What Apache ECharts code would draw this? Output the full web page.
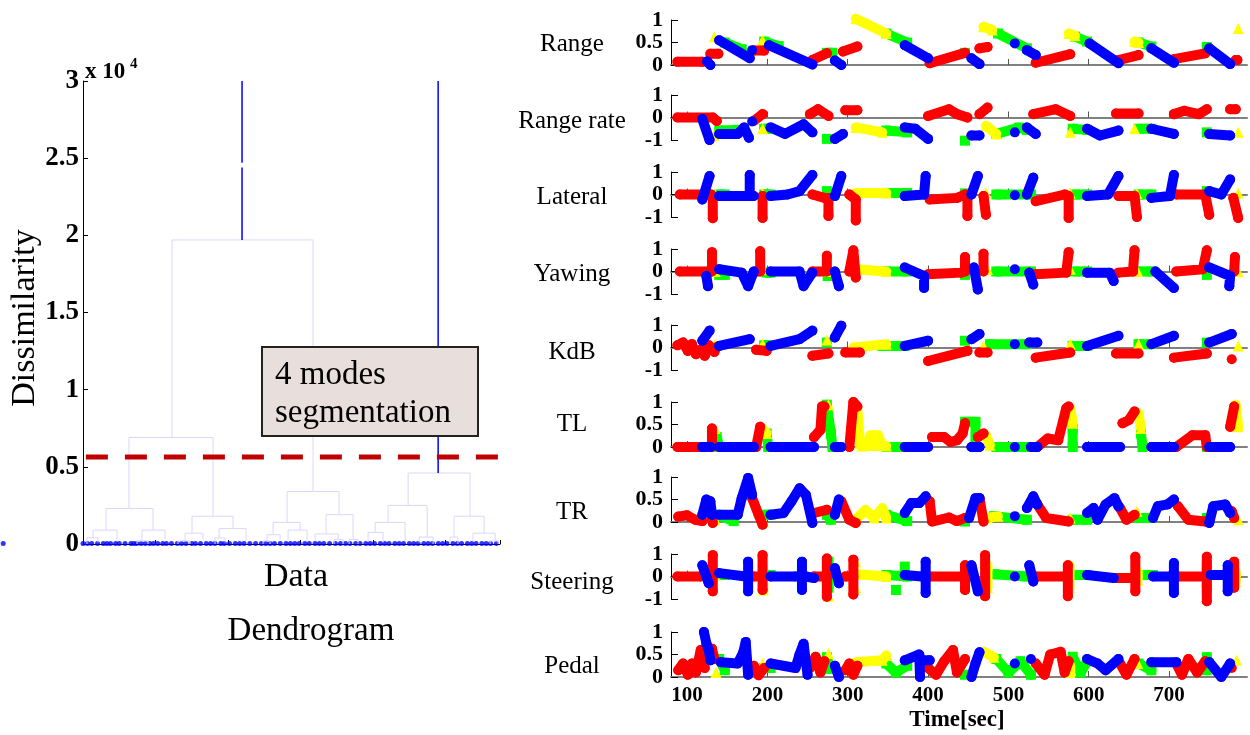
<!DOCTYPE html>
<html lang="en">
<head>
<meta charset="UTF-8">
<title>Dendrogram and driving modes</title>
<script src="https://cdn.jsdelivr.net/npm/echarts@6/dist/echarts.min.js"></script>
<style>html,body{margin:0;padding:0;background:#fff;}</style>
</head>
<body>
<div id="main" style="width:1250px;height:735px;"></div>
<script>
// ---------- dendrogram data (x in leaf units, height in 10^4) ----------
var dendroTicks = [0, 0.5, 1, 1.5, 2, 2.5, 3];
// [xLeft, xRight, height, leftChildHeight, rightChildHeight]
var dendroLinks = [
  [1.228, 3.172, 1.97, 0.69, 0.34],
  [0.634, 1.793, 0.69, 0.23, 0.18],
  [2.814, 3.531, 0.34, 0.14, 0.19],
  [4.483, 5.338, 0.46, 0.25, 0.18],
  [0.317, 0.966, 0.23, 0.09, 0.09],
  [1.503, 2.069, 0.18, 0.07, 0.10],
  [2.621, 2.993, 0.14, 0.06, 0.09],
  [3.352, 3.724, 0.19, 0.065, 0.03],
  [4.207, 4.745, 0.25, 0.14, 0.045],
  [5.117, 5.531, 0.18, 0.045, 0.07],
  [0.138, 0.469, 0.09, 0.04, 0.02],
  [0.814, 1.131, 0.09, 0.02, 0.03],
  [1.407, 1.655, 0.07, 0.02, 0.03],
  [1.876, 2.248, 0.10, 0.04, 0.02],
  [2.538, 2.717, 0.06, 0.02, 0.03],
  [2.828, 3.090, 0.09, 0.03, 0.02],
  [3.200, 3.517, 0.065, 0.02, 0.03],
  [4.028, 4.441, 0.14, 0.075, 0.02],
  [3.931, 4.138, 0.075, 0.02, 0.01],
  [5.379, 5.683, 0.07, 0.02, 0.02],
  [0.055, 0.207, 0.04, 0, 0.01],
  [1.821, 1.959, 0.04, 0, 0.01],
  [4.634, 4.828, 0.045, 0.01, 0],
  [5.062, 5.170, 0.045, 0, 0],
  [3.669, 3.793, 0.03, 0, 0],
  [2.483, 2.579, 0.02, 0, 0],
  [0.745, 0.897, 0.02, 0, 0],
  [1.310, 1.476, 0.02, 0, 0],
  [3.462, 3.586, 0.03, 0, 0],
  [5.614, 5.724, 0.02, 0, 0]
];
// blue top branches [x, from, to]
var dendroStems = [[2.193, 1.97, 2.44], [2.193, 2.47, 3.0], [4.897, 0.46, 3.0]];
var dendroLeaves = [-1.1, 0.0, 0.06, 0.12, 0.2, 0.28, 0.33, 0.38, 0.45, 0.5, 0.58, 0.66, 0.7, 0.74, 0.8, 0.86,
  0.92, 0.97, 1.03, 1.1, 1.15, 1.22, 1.3, 1.36, 1.42, 1.5, 1.55, 1.62, 1.7, 1.76, 1.82, 1.9, 1.95,
  2.02, 2.1, 2.16, 2.22, 2.3, 2.38, 2.46, 2.52, 2.58, 2.64, 2.72, 2.8, 2.86, 2.92, 2.98, 3.06, 3.12,
  3.2, 3.26, 3.32, 3.4, 3.48, 3.55, 3.62, 3.68, 3.76, 3.82, 3.9, 3.96, 4.02, 4.1, 4.16, 4.22, 4.3,
  4.36, 4.42, 4.5, 4.56, 4.62, 4.7, 4.76, 4.82, 4.9, 4.96, 5.02, 5.1, 5.16, 5.22, 5.3, 5.36, 5.42,
  5.5, 5.56, 5.62, 5.7];
var cutLevel = 0.564;
var cutFrom = 0.04, cutTo = 5.93;

// ---------- time series panels ----------
var panelNames = ['Range', 'Range rate', 'Lateral', 'Yawing', 'KdB', 'TL', 'TR', 'Steering', 'Pedal'];
var timeTicks = [100, 200, 300, 400, 500, 600, 700];
var unitTicks = [0, 0.5, 1];
var signTicks = [-1, 0, 1];

var rangeRed = [[88,0.07],[119,0.07],null,[129,0.25],[139,0.25],null,[183,0.32],[196,0.32],null,
  [256,0.11],[274,0.26],null,[294,0.3],[312,0.41],null,[402,0.04],[446,0.27],null,[464,0.37],[474,0.4],null,
  [534,0.05],[577,0.24],null,[637,0.11],[662,0.22],null,[706,0.13],[745,0.26],null,[783,0.11],[785,0.11]];
var rangeBlue = [[125,0.08],[129,0.0],null,[140,0.55],[178,0.15],null,[181,0.33],null,[202,0.44],[256,0.01],null,
  [284,0.1],[292,0.0],null,[371,0.44],[400,0.15],null,[454,0.15],[464,0.02],null,[508,0.48],null,
  [523,0.33],[534,0.22],null,[601,0.48],[637,0.04],null,[678,0.37],[706,0.05],null,[750,0.37],[776,0.02]];
var rangeGreen = [[147,0.5],[168,0.35],null,[196,0.52],[214,0.42],null,[274,0.27],[281,0.27],null,
  [348,0.7],[374,0.5],null,[446,0.27],null,[487,0.7],[523,0.37],null,[583,0.63],[598,0.52],null,
  [662,0.5],[678,0.41],null,[747,0.4]];
var rangeYellow = [[134,0.63],null,[194,0.55],null,[310,1.03],[348,0.7],null,[469,0.85],[480,0.78],null,
  [575,0.7],[583,0.65],null,[657,0.52],[662,0.5],null,[786,0.81]];

var rateRed = [[88,0],[132,0],[137,-0.15],null,[183,-0.15],[194,0.15],null,[253,0.15],[263,0.37],[276,0.07],null,
  [297,0.32],[312,0.32],null,[400,0.07],[426,0.37],[436,0.15],[449,0],null,[464,0.15],[474,0.44],null,
  [531,0.15],[559,0.37],[577,0.07],null,[634,0.18],[662,0.18],null,[706,0.15],[719,0.3],[737,0.15],[747,0.37],null,
  [776,0.37],[783,0.37]];
var rateBlue = [[119,-0.07],[128,-1],null,[140,-0.73],[163,-0.73],[171,-0.44],[177,-0.9],null,[181,-0.18],null,
  [204,-0.44],[222,-0.73],[245,-0.3],[256,-0.66],null,[284,-0.95],[294,-0.73],null,[371,-0.44],[384,-0.5],[400,-0.95],null,
  [454,-0.8],[464,-0.8],null,[508,-0.66],null,[523,-0.44],[534,-0.73],null,[598,-0.5],[614,-0.8],[637,-0.58],null,
  [678,-0.5],[706,-0.73],null,[750,-0.73],[776,-0.8]];
var rateGreen = [[140,-0.58],[163,-0.55],null,[196,-0.5],[204,-0.5],null,[274,-0.95],null,[348,-0.58],[374,-0.66],null,
  [446,-1.03],null,[485,-0.73],[513,-0.45],[523,-0.55],null,[580,-0.5],[598,-0.55],null,[662,-0.5],[678,-0.5],null,[747,-0.66]];
var rateYellow = [[134,-0.8],null,[194,-0.5],null,[310,-0.44],[343,-0.66],null,[472,-0.37],[485,-0.73],null,
  [577,-0.66],null,[657,-0.5],null,[786,-0.66]];

var latRed = [[91,0],[130,0],[132,-0.1],[132,-1.05],null,[194,-0.07],[194,-1.04],null,[256,0],[271,-0.15],[276,-0.15],[276,-0.95],null,
  [302,0],[310,-0.22],[310,-1.15],null,[402,-0.22],[436,-0.15],[446,0],null,[449,-0.15],[449,-0.95],null,
  [469,-0.07],[472,-0.9],null,[534,-0.3],[570,0],[575,-0.07],[575,-1.04],null,[637,-0.07],[657,-0.07],[660,-1.0],null,
  [709,0],[745,0],[750,-0.9],null,[780,-0.15],[786,-1.04]];
var latBlue = [[119,-0.22],[128,0.82],null,[140,-0.07],[183,-0.07],null,[178,-0.07],[178,0.87],null,
  [204,-0.07],[225,0],[240,0.15],[256,0.87],null,[284,-0.07],[292,0.82],null,[371,-0.07],[395,0],[397,0.82],null,
  [454,0],[462,0.82],null,[508,-0.03],null,[523,0],[531,0.75],null,[598,-0.07],[624,0],[637,0.82],null,
  [678,-0.15],[701,-0.07],[706,0.87],null,[750,0.15],[765,0],[776,0.67]];
var latGreen = [[140,0],[147,0],null,[196,0],[204,0],null,[274,0.15],null,[348,0.07],[374,0.07],null,[446,0.05],null,
  [485,0],[528,0],null,[583,0],[598,0],null,[662,0],[678,0],null,[747,0.15]];
var latYellow = [[135,0],null,[194,0.05],null,[310,0.07],[348,0.07],null,[472,0.07],null,[577,0.07],null,[660,0.05],null,[786,0.07]];

var yawRed = [[91,0],[127,0],null,[131,0],[131,0.86],null,[186,0],[191,0],[191,0.9],null,[256,0],[274,0],[274,0.7],null,
  [302,0],[307,0.94],[310,-0.27],null,[400,-0.12],[441,-0.05],[446,0],[446,0.64],null,[469,0],[469,0.79],null,
  [534,-0.12],[572,-0.05],[575,0.86],null,[637,-0.05],[655,0],[657,0.94],null,[709,0],[742,0.1],[747,0.94],null,
  [781,0],[782,0.64]];
var yawBlue = [[124,-0.2],[126,-0.65],null,[140,0.1],[168,-0.05],[176,-0.65],[183,0],null,[204,0],[240,0],[245,-0.65],[256,-0.05],null,
  [284,0],[289,-0.65],null,[371,0.18],[395,-0.2],[395,-0.73],null,[457,0.18],[462,-0.8],null,[508,0.1],null,
  [526,-0.05],[531,-0.58],null,[598,-0.05],[626,-0.05],[631,-0.42],null,[683,0],[706,-0.73],null,
  [750,0.18],[776,-0.2],[775,-0.65]];
var yawGreen = [[140,-0.15],[147,-0.15],null,[199,-0.05],[204,-0.05],null,[275,-0.2],null,[348,0],[374,0],null,
  [446,-0.15],null,[485,0],[528,0],null,[583,0],[598,0],null,[662,0],[678,0],null,[747,-0.15]];
var yawYellow = [[135,0],null,[195,0.1],null,[276,0],null,[310,0.1],[348,0],null,[474,0.1],null,[577,0.1],null,[661,0],null,[786,0]];

var kdbRed = [[88,0.1],[95,0.22],[101,-0.15],[106,0.15],[111,-0.3],[117,-0.1],[122,-0.37],[127,0.1],[134,-0.2],[136,0],null,
  [186,-0.1],[199,-0.15],null,[256,-0.37],[276,-0.27],null,[297,-0.22],[315,-0.22],null,[400,-0.6],[449,-0.15],null,
  [464,-0.22],[474,-0.22],null,[534,-0.45],[577,-0.22],null,[634,-0.27],[662,-0.27],null,[706,-0.45],[747,-0.27],null,[778,-0.52]];
var kdbBlue = [[119,0.3],[128,0.75],null,[140,0.07],[178,0.37],null,[204,0.07],[240,0.37],[256,0.75],null,
  [284,0.45],[292,0.97],null,[371,0.07],[400,0.3],null,[454,0.37],[464,0.6],null,[508,0.15],null,
  [526,0.22],[536,0.22],null,[598,0.07],[637,0.52],null,[678,0.15],[706,0.52],null,[750,0.22],[778,0.6]];
var kdbGreen = [[196,0.1],[201,0.1],null,[274,0.22],null,[343,0.07],[371,0.07],null,[446,0.3],null,[477,0.15],[523,0.15],null,
  [580,0.07],[598,0.07],null,[662,0.15],[678,0.15],null,[747,0.22]];
var kdbYellow = [[135,0.15],null,[194,0.15],null,[274,0.33],null,[307,0],[348,0.15],null,[469,0.07],null,[577,0.15],null,
  [662,0.15],null,[786,0.07]];

var tlRed = [[88,0],[122,0],[131,0],[131,0.41],null,[186,0],[191,0.45],null,[258,0.22],[266,0.38],[268,0.9],[271,0.9],null,
  [302,0],[307,1.0],[312,0.9],null,[405,0.22],[420,0.22],[428,0.11],[436,0.15],[443,0.3],[446,0.53],null,
  [462,0.22],[469,0.3],null,[536,0],[549,0.19],[562,0.15],[572,0.86],[575,0.9],null,[642,0.53],[650,0.6],[657,0.79],null,
  [709,0],[729,0.26],[745,0.26],[747,0],null,[776,0.45],[781,0.9]];
var tlBlue = [[119,0],[129,0],null,[140,0],[183,0],null,[204,0],[258,0],null,[284,0],[292,0],null,[371,0],[400,0],null,
  [454,0],[464,0],null,[508,0],null,[528,0],[536,0],null,[598,0],[639,0],null,[678,0],[706,0],null,[750,0],[776,0]];
var tlGreen = [[137,0.22],[140,0],null,[199,0.3],[201,0],null,[274,0.94],[279,0.3],[281,0],null,[348,0],[374,0],null,
  [446,0.56],[459,0.56],[459,0],null,[485,0],[523,0],null,[580,0.41],[580,0],null,[665,0.3],[667,0],null,[747,0]];
var tlYellow = [[135,0.41],null,[194,0.41],[199,0.3],null,[276,0.94],null,[312,0.82],[315,0.07],[318,0.02],[348,0.02],null,
  [325,0.1],[328,0.26],[338,0.26],[341,0.1],null,[472,0.26],[477,0.04],null,[577,0.86],[580,0.53],null,
  [662,0.75],[665,0.41],null,[783,0.94],[786,0.45]];

var trRed = [[89,0.12],[100,0.15],[110,0.05],[119,0.02],null,[129,0.31],[132,-0.02],null,[181,0.53],[189,0.16],[194,-0.06],null,
  [258,0.2],[274,0.27],null,[292,0.46],[302,0.05],[310,-0.02],null,[402,0.46],[405,0.01],[426,0.1],[436,0.02],[446,0.09],null,
  [464,0.53],[469,0.01],null,[536,0.39],[547,0.09],[575,0.01],null,[639,0.31],[647,0.05],[657,0.16],null,
  [711,0.35],[724,0.05],[745,0.01],null,[778,0.24],[781,0.09]];
var trBlue = [[119,0.16],[124,0.5],[129,0.46],[131,0.16],null,[140,0.16],[163,0.16],[168,0.53],[176,0.98],[181,0.6],null,
  [204,0.16],[220,0.2],[230,0.46],[240,0.75],[248,0.6],[256,-0.02],null,[284,0.16],[289,0.5],null,
  [371,0.2],[379,0.42],[389,0.42],[397,0.57],null,[451,0.09],[459,0.53],[464,0.53],null,[508,0.13],null,
  [523,0.31],[531,0.57],[536,0.39],null,[598,0.2],[606,0.31],[611,0.05],[621,0.39],[632,0.53],[637,0.35],null,
  [680,0.09],[686,0.35],[698,0.39],[706,0.5],null,[750,-0.02],[755,0.35],[770,0.39],[776,0.2]];
var trGreen = [[137,0.16],[158,0.02],null,[196,0.16],[204,0.16],null,[274,0.16],[279,0.05],null,[348,0.16],[374,0.02],null,
  [446,0.01],null,[482,0.13],[523,0.05],null,[580,0.05],[598,0.05],null,[662,0.09],[678,0.09],null,[747,0.09]];
var trYellow = [[135,0.05],null,[195,0.01],null,[310,0.05],[322,0.27],[333,0.09],[343,0.31],[348,0.09],null,
  [474,0.09],[487,0.13],null,[577,0.09],null,[660,0.24],null,[786,0.05]];

var steerRed = [[88,0],[117,0],null,[132,0.95],[132,-0.66],null,[183,0],[191,0],null,[194,0.95],[194,-0.6],null,
  [258,0],[274,0],null,[274,0.8],[274,-0.9],null,[297,0],[307,0],null,[307,0.75],[307,-0.8],null,
  [402,0],[443,0],null,[446,0.5],[446,-0.6],null,[471,0.95],[471,-0.88],null,[534,0],[572,0],null,[574,0.5],[574,-0.88],null,
  [634,-0.07],[657,-0.07],null,[658,0.88],[658,-0.66],null,[711,0],[745,0],null,[747,0.88],[747,-1.1],null,[781,0.66],[781,-0.5]];
var steerBlue = [[119,0.5],[127,-0.3],null,[140,0.15],[173,0],null,[176,0.66],[176,-0.66],null,[204,0],[235,0],null,
  [243,0.66],[243,-0.6],null,[248,0],[258,-0.07],null,[284,0.37],[289,-0.3],null,[371,0.07],[392,0],null,
  [397,0.66],[397,-0.73],null,[454,0.5],[462,-0.66],null,[508,0],null,[526,0.5],[531,-0.22],null,
  [598,0.07],[631,-0.07],null,[680,0],[701,0],null,[706,0.6],[706,-0.73],null,[752,0.07],[770,0.07],null,[773,0.5],[773,-0.66]];
var steerGreen = [[137,0.07],[147,0.07],null,[196,0.07],[204,0.07],null,[276,0.66],[276,-0.5],null,[348,0.07],[374,0],null,
  [360,-0.6],null,[371,0.44],null,[446,0.37],null,[482,0.1],[523,0],null,[580,0.07],[598,0.07],null,[662,0.07],[680,0.07],null,
  [747,0.5],[747,-0.5]];
var steerYellow = [[135,0.07],null,[194,0.5],[195,-0.6],null,[276,-0.88],null,[310,0.66],null,[310,-0.5],null,[312,0.1],[348,0],null,
  [474,0.5],[474,-0.5],null,[576,0.5],[576,-0.5],null,[661,0.22],[661,-0.15],null,[783,0.22],[783,-0.22]];

var pedalRed = [[89,0.15],[95,0.3],[101,0.05],[106,0.3],[111,0.1],[117,0.6],[122,0.2],null,[131,0.63],[134,0.4],null,
  [183,0.25],[189,0.04],[196,0.2],null,[253,0.2],[260,0.45],[266,0.1],[271,0.35],null,[297,0.15],[302,0.3],[307,0.05],[312,0.25],null,
  [400,0.2],[410,0.05],[420,0.35],[431,0.6],[436,0.1],[446,0.4],null,[534,0.3],[545,0.05],[552,0.5],[565,0.56],[570,0.1],[575,0.35],null,
  [639,0.3],[647,0.05],[657,0.4],null,[709,0.3],[716,0.05],[724,0.4],[735,0.1],[745,0.35],null,[778,0.2]];
var pedalBlue = [[121,1.0],[124,0.75],[127,0.6],[129,0.37],null,[142,0.33],[163,0.3],[170,0.55],[173,0.78],[176,0.05],null,
  [204,0.3],[235,0.2],[240,0.5],[245,0.74],[250,0.05],null,[284,0.25],[289,0.0],null,[371,0.37],[389,0.5],[390,0.0],null,
  [394,0.37],[402,0.37],null,[454,0.0],[459,0.3],[464,0.55],null,[508,0.3],null,[528,0.4],null,
  [598,0.4],[611,0.3],[621,0.15],[637,0.4],null,[678,0.33],[709,0.33],null,[750,0.33],[765,0.0],[776,0.3]];
var pedalGreen = [[140,0.4],[147,0.15],null,[196,0.2],[204,0.2],null,[274,0.44],[278,0.18],null,[348,0.3],[360,0.1],[374,0.25],null,
  [446,0.05],null,[485,0.4],[500,0.1],[515,0.35],[528,0.05],null,[580,0.45],[590,0.1],[598,0.35],null,
  [662,0.3],[678,0.15],null,[747,0.44],[747,0.15]];
var pedalYellow = [[136,0.1],null,[194,0.3],null,[276,0.52],null,[310,0.33],[343,0.37],[348,0.48],null,[469,0.56],[482,0.44],null,
  [577,0.1],[577,0.25],null,[661,0.3],null,[784,0.37]];

// ---------- build ----------
var serif = '"Liberation Serif", "Times New Roman", serif';
var panelTops = [20, 95, 172, 249, 325, 402, 477, 554, 632];
var panelLabelY = [44, 121, 197, 274, 352, 424, 512, 582, 666];
var panelSigned = [false, true, true, true, true, false, false, true, false];
var panelData = [
  [rangeGreen, rangeYellow, rangeRed, rangeBlue],
  [rateGreen, rateYellow, rateRed, rateBlue],
  [latGreen, latYellow, latRed, latBlue],
  [yawGreen, yawYellow, yawRed, yawBlue],
  [kdbGreen, kdbYellow, kdbRed, kdbBlue],
  [tlGreen, tlYellow, tlRed, tlBlue],
  [trGreen, trYellow, trRed, trBlue],
  [steerGreen, steerYellow, steerRed, steerBlue],
  [pedalGreen, pedalYellow, pedalRed, pedalBlue]
];
var modeStyle = [
  { color: '#00ff00', symbol: 'rect', size: 10 },
  { color: '#ffff00', symbol: 'triangle', size: 11 },
  { color: '#ff0000', symbol: 'circle', size: 10 },
  { color: '#0000ff', symbol: 'circle', size: 10 }
];

function gaps(pts) {
  return pts.map(function (p) { return p ? p : ['-', '-']; });
}

var grids = [{ left: 83, top: 81, width: 417, height: 463 }];
var xAxes = [{
  gridIndex: 0, type: 'value', min: 0, max: 5.75, interval: 1,
  axisLine: { show: true, lineStyle: { color: '#000', width: 1 } },
  axisTick: { show: true, inside: true, length: 4, lineStyle: { color: '#000' } },
  axisLabel: { show: false }, splitLine: { show: false }
}];
var yAxes = [{
  gridIndex: 0, type: 'value', min: 0, max: 3, interval: 0.5,
  axisLine: { show: true, lineStyle: { color: '#000', width: 1 } },
  axisTick: { show: true, inside: true, length: 5, lineStyle: { color: '#000' } },
  axisLabel: { color: '#000', fontFamily: serif, fontWeight: 'bold', fontSize: 27, margin: 4 },
  splitLine: { show: false }
}];

// dendrogram links
var linkData = [];
dendroLinks.forEach(function (l) {
  linkData.push([l[0], l[3]], [l[0], l[2]], [l[1], l[2]], [l[1], l[4]], ['-', '-']);
});
var stemData = [];
dendroStems.forEach(function (s) {
  stemData.push([s[0], s[1]], [s[0], s[2]], ['-', '-']);
});

var series = [
  { type: 'line', xAxisIndex: 0, yAxisIndex: 0, data: linkData, showSymbol: false, silent: true,
    lineStyle: { color: '#d8d8fa', width: 1 }, clip: false },
  { type: 'line', xAxisIndex: 0, yAxisIndex: 0, data: stemData, showSymbol: false, silent: true,
    lineStyle: { color: '#0000ff', width: 1.5 }, clip: false },
  { type: 'scatter', xAxisIndex: 0, yAxisIndex: 0, data: dendroLeaves.map(function (x) { return [x, 0.003]; }),
    symbolSize: 5, itemStyle: { color: '#0000ff' }, silent: true, clip: false },
  { type: 'line', xAxisIndex: 0, yAxisIndex: 0, data: [[cutFrom, cutLevel], [cutTo, cutLevel]], showSymbol: false,
    silent: true, clip: false, z: 5, lineStyle: { color: '#c00000', width: 5, type: [22, 17] } }
];

panelNames.forEach(function (name, i) {
  var gi = i + 1;
  var last = i === panelNames.length - 1;
  grids.push({ left: 671, top: panelTops[i], width: 576, height: 45 });
  xAxes.push({
    gridIndex: gi, type: 'value', min: 80, max: 797,
    axisLine: { show: true, lineStyle: { color: '#808080', width: 2 } },
    axisTick: { show: true, inside: true, length: 6, customValues: timeTicks, lineStyle: { color: '#555' } },
    axisLabel: { show: last, customValues: timeTicks, color: '#000', fontFamily: serif, fontWeight: 'bold', fontSize: 21, margin: 8 },
    splitLine: { show: false }
  });
  yAxes.push({
    gridIndex: gi, type: 'value',
    min: panelSigned[i] ? -1 : 0, max: 1, interval: panelSigned[i] ? 1 : 0.5,
    axisLine: { show: true, lineStyle: { color: '#000', width: 1 } },
    axisTick: { show: true, inside: true, length: 7, lineStyle: { color: '#000' } },
    axisLabel: { color: '#000', fontFamily: serif, fontWeight: 'bold', fontSize: 22, margin: 8 },
    splitLine: { show: false }
  });
  panelData[i].forEach(function (pts, k) {
    var m = modeStyle[k];
    series.push({
      type: 'line', xAxisIndex: gi, yAxisIndex: gi, data: gaps(pts), clip: false, silent: true,
      connectNulls: false, showSymbol: true, symbol: m.symbol, symbolSize: m.size,
      itemStyle: { color: m.color }, lineStyle: { color: m.color, width: 10, cap: 'round', join: 'round' },
      z: 2 + k
    });
  });
});

var graphics = [
  { type: 'text', x: 25, y: 318, rotation: Math.PI / 2,
    style: { text: 'Dissimilarity', font: '34px ' + serif, fill: '#000', align: 'center', verticalAlign: 'middle', textAlign: 'center', textVerticalAlign: 'middle' } },
  { type: 'text', x: 85, y: 72,
    style: { text: 'x 10', font: 'bold 23px ' + serif, fill: '#000', align: 'left', verticalAlign: 'middle', textAlign: 'left', textVerticalAlign: 'middle' } },
  { type: 'text', x: 130, y: 64,
    style: { text: '4', font: 'bold 15px ' + serif, fill: '#000', align: 'left', verticalAlign: 'middle', textAlign: 'left', textVerticalAlign: 'middle' } },
  { type: 'rect', z: 100, shape: { x: 262, y: 347, width: 216, height: 89 },
    style: { fill: '#e8dedc', stroke: '#222', lineWidth: 2 } },
  { type: 'text', z: 101, x: 275, y: 375,
    style: { text: '4 modes', font: '33px ' + serif, fill: '#000', align: 'left', verticalAlign: 'middle', textAlign: 'left', textVerticalAlign: 'middle' } },
  { type: 'text', z: 101, x: 275, y: 413,
    style: { text: 'segmentation', font: '33px ' + serif, fill: '#000', align: 'left', verticalAlign: 'middle', textAlign: 'left', textVerticalAlign: 'middle' } },
  { type: 'text', x: 296, y: 577,
    style: { text: 'Data', font: '34px ' + serif, fill: '#000', align: 'center', verticalAlign: 'middle', textAlign: 'center', textVerticalAlign: 'middle' } },
  { type: 'text', x: 311, y: 631,
    style: { text: 'Dendrogram', font: '33px ' + serif, fill: '#000', align: 'center', verticalAlign: 'middle', textAlign: 'center', textVerticalAlign: 'middle' } },
  { type: 'text', x: 957, y: 720,
    style: { text: 'Time[sec]', font: 'bold 23px ' + serif, fill: '#000', align: 'center', verticalAlign: 'middle', textAlign: 'center', textVerticalAlign: 'middle' } }
];
panelNames.forEach(function (name, i) {
  graphics.push({ type: 'text', x: 572, y: panelLabelY[i],
    style: { text: name, font: '25px ' + serif, fill: '#000', align: 'center', verticalAlign: 'middle', textAlign: 'center', textVerticalAlign: 'middle' } });
});

var myChart = echarts.init(document.getElementById('main'));
myChart.setOption({
  animation: false,
  backgroundColor: '#fff',
  grid: grids,
  xAxis: xAxes,
  yAxis: yAxes,
  series: series,
  graphic: graphics
});
</script>
</body>
</html>
